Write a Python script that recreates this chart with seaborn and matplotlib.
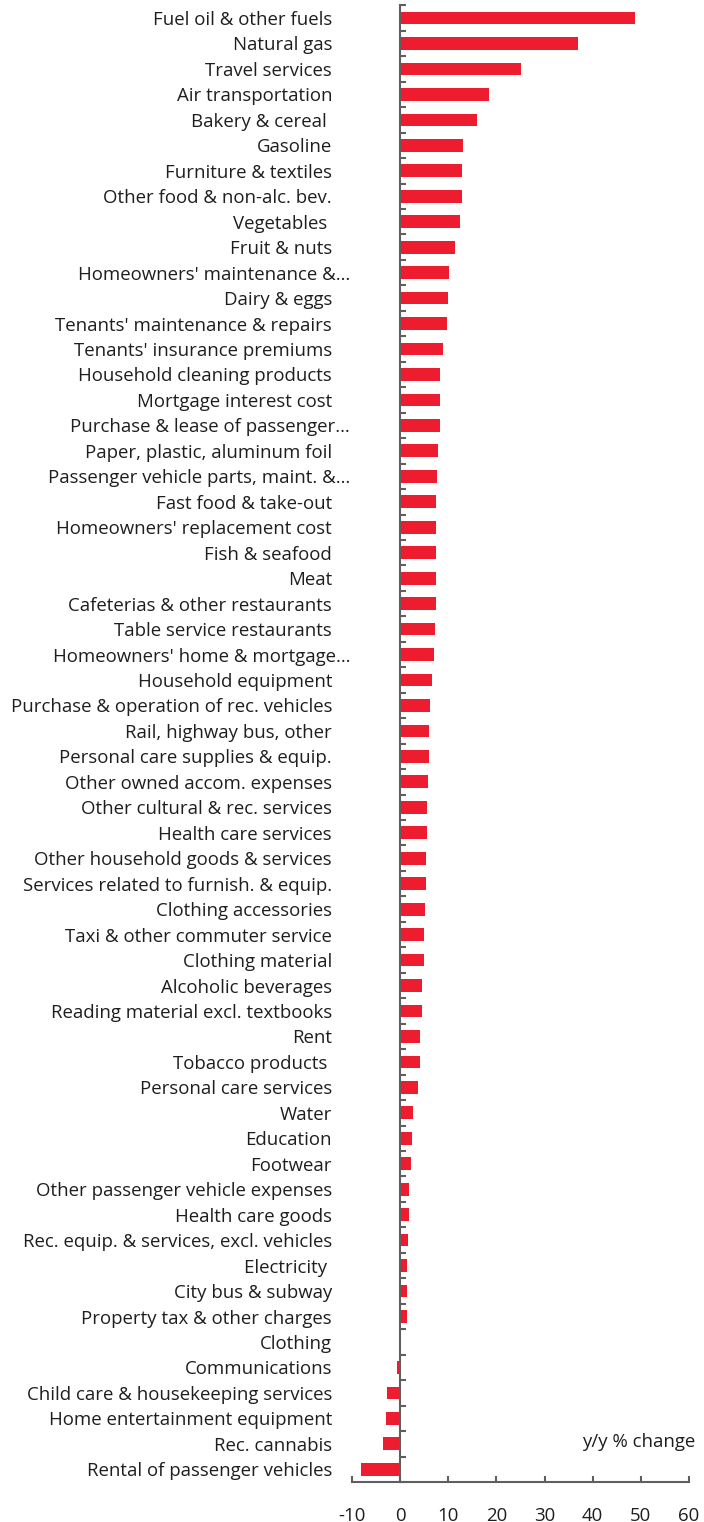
import matplotlib
matplotlib.use("Agg")
import matplotlib.pyplot as plt
import matplotlib.transforms as mtransforms
import seaborn as sns
import numpy as np
import pandas as pd

categories = [
    "Fuel oil & other fuels", "Natural gas", "Travel services", "Air transportation",
    "Bakery & cereal ", "Gasoline", "Furniture & textiles", "Other food & non-alc. bev.",
    "Vegetables ", "Fruit & nuts", "Homeowners' maintenance &\u2026", "Dairy & eggs",
    "Tenants' maintenance & repairs", "Tenants' insurance premiums",
    "Household cleaning products", "Mortgage interest cost",
    "Purchase & lease of passenger\u2026", "Paper, plastic, aluminum foil",
    "Passenger vehicle parts, maint. &\u2026", "Fast food & take-out",
    "Homeowners' replacement cost", "Fish & seafood", "Meat",
    "Cafeterias & other restaurants", "Table service restaurants",
    "Homeowners' home & mortgage\u2026", "Household equipment",
    "Purchase & operation of rec. vehicles", "Rail, highway bus, other",
    "Personal care supplies & equip.", "Other owned accom. expenses",
    "Other cultural & rec. services", "Health care services",
    "Other household goods & services", "Services related to furnish. & equip.",
    "Clothing accessories", "Taxi & other commuter service", "Clothing material",
    "Alcoholic beverages", "Reading material excl. textbooks", "Rent",
    "Tobacco products ", "Personal care services", "Water", "Education", "Footwear",
    "Other passenger vehicle expenses", "Health care goods",
    "Rec. equip. & services, excl. vehicles", "Electricity ", "City bus & subway",
    "Property tax & other charges", "Clothing", "Communications",
    "Child care & housekeeping services", "Home entertainment equipment",
    "Rec. cannabis", "Rental of passenger vehicles",
]
values = [
    48.7, 37.0, 25.0, 18.4, 16.0, 13.1, 12.8, 12.8, 12.5, 11.3,
    10.2, 9.9, 9.8, 8.8, 8.2, 8.2, 8.2, 7.9, 7.75, 7.5,
    7.5, 7.5, 7.5, 7.5, 7.3, 7.1, 6.6, 6.2, 6.0, 5.9,
    5.7, 5.6, 5.5, 5.3, 5.3, 5.2, 4.9, 4.9, 4.6, 4.5,
    4.15, 4.15, 3.7, 2.6, 2.5, 2.2, 1.9, 1.8, 1.7, 1.45,
    1.45, 1.4, 0.0, -0.7, -2.7, -2.9, -3.6, -8.1,
]
x_ticks = [-10, 0, 10, 20, 30, 40, 50, 60]
x_label = "y/y % change"

BAR = "#ED1C2E"
AXC = "#5f5f5f"
TXT = "#1e1e1e"
FS = 13.4

sns.set_style("white")
plt.rcParams["font.family"] = ["Open Sans", "DejaVu Sans"]

df = pd.DataFrame({"category": categories, "value": values})

fig = plt.figure(figsize=(7.04, 15.22), dpi=100)
ax = fig.add_axes([352 / 704, 1 - 1482 / 1522, (689 - 352) / 704, (1482 - 5.3) / 1522])

sns.barplot(data=df, x="value", y="category", orient="h", color=BAR,
            width=0.5, linewidth=0, saturation=1, ax=ax)

n = len(categories)
ax.set_xlim(x_ticks[0], x_ticks[-1])
ax.set_ylim(n - 0.5, -0.5)
ax.set_xlabel("")
ax.set_ylabel("")

for s in ["top", "right"]:
    ax.spines[s].set_visible(False)
ax.spines["left"].set_position(("data", 0))
for s in ["left", "bottom"]:
    ax.spines[s].set_color(AXC)
    ax.spines[s].set_linewidth(1.5)

ax.set_xticks(x_ticks)
ax.set_xticklabels([str(t) for t in x_ticks])
ax.tick_params(axis="x", which="major", bottom=True, direction="in", length=4, width=1.5,
               color=AXC, pad=18, labelsize=FS, labelcolor=TXT)

ax.set_yticks(np.arange(n))
ax.set_yticks(np.arange(n + 1) - 0.5, minor=True)
ax.tick_params(axis="y", which="major", left=True, length=0, pad=49,
               labelsize=FS, labelcolor=TXT)
ax.tick_params(axis="y", which="minor", left=True, direction="in", length=4.5,
               width=1.5, color=AXC)

for lab in ax.get_yticklabels():
    if lab.get_text().endswith("\u2026"):
        lab.set_transform(lab.get_transform() +
                          mtransforms.ScaledTranslation(18 / 100, 0, fig.dpi_scale_trans))

ax.text(1.02, 0.027, x_label, transform=ax.transAxes, ha="right", va="center",
        fontsize=FS, color=TXT)

fig.savefig("out.png", dpi=100)
